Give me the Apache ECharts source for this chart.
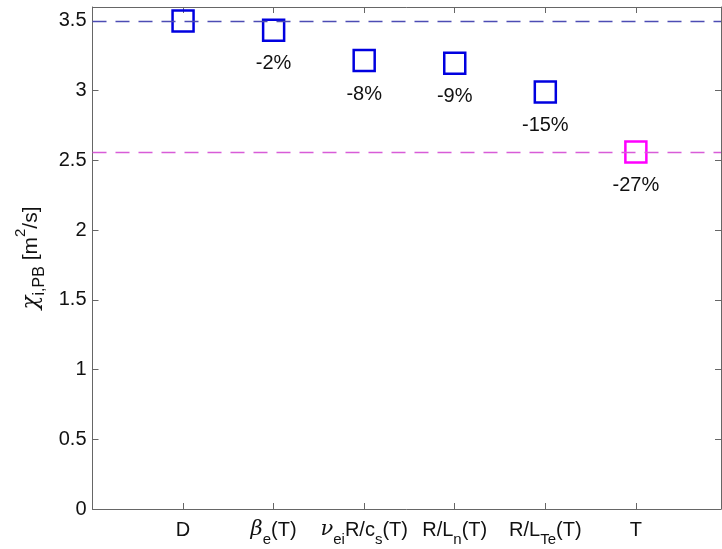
<!DOCTYPE html>
<html>
<head>
<meta charset="utf-8">
<script src="https://cdn.jsdelivr.net/npm/echarts@6/dist/echarts.min.js"></script>
<style>
  html, body { margin: 0; padding: 0; background: #fff; }
  #chart { width: 722px; height: 549px; }
</style>
</head>
<body>
<div id="chart"></div>
<script>
// Scenario labels (rich-text markup for subscripts / Greek letters)
const categories = [
  '{m|D}',
  '{g|β}{s|e}{m|(T)}',
  '{g|ν}{s|ei}{m|R/c}{s|s}{m|(T)}',
  '{m|R/L}{s|n}{m|(T)}',
  '{m|R/L}{s|Te}{m|(T)}',
  '{m|T}'
];
// Ion heat diffusivity per scenario [m^2/s]
const chiValues = [3.5, 3.434, 3.216, 3.197, 2.99, 2.561];
// Marker colour per scenario
const pointColors = ['#0000e0', '#0000e0', '#0000e0', '#0000e0', '#0000e0', '#ff00ff'];
// Y tick values
const yTicks = [0, 0.5, 1, 1.5, 2, 2.5, 3, 3.5];
const xTicks = [1, 2, 3, 4, 5, 6];

const baseValue = chiValues[0];
const lastValue = chiValues[chiValues.length - 1];

const FONT = '"Liberation Sans", Arial, Helvetica, sans-serif';
const TEXT = '#111';

const richStyles = {
  m: { fontSize: 20, fontFamily: FONT, color: TEXT, lineHeight: 34 },
  g: { fontSize: 21, fontFamily: '"DejaVu Serif", serif', fontStyle: 'italic', color: TEXT, lineHeight: 34 },
  s: { fontSize: 15, fontFamily: FONT, color: TEXT, lineHeight: 14, verticalAlign: 'bottom' }
};

const points = chiValues.map((v, i) => ({
  value: [i + 1, v],
  itemStyle: { borderColor: pointColors[i] },
  label: {
    show: i > 0,
    formatter: Math.round((v - baseValue) / baseValue * 100) + '%'
  }
}));

const axisColor = '#666';

const chart = echarts.init(document.getElementById('chart'), null, { renderer: 'canvas' });
chart.setOption({
  animation: false,
  backgroundColor: '#fff',
  grid: { left: 92.5, right: 1, top: 7, bottom: 40, containLabel: false },
  xAxis: [
    {
      type: 'value', min: 0, max: 6.94, position: 'bottom',
      splitLine: { show: false },
      axisLine: { show: true, onZero: false, lineStyle: { color: axisColor, width: 1 } },
      axisTick: { show: true, inside: true, length: 6, customValues: xTicks, lineStyle: { color: axisColor } },
      axisLabel: {
        customValues: xTicks,
        margin: 4,
        formatter: v => categories[Math.round(v) - 1] || '',
        rich: richStyles
      }
    },
    {
      type: 'value', min: 0, max: 6.94, position: 'top',
      splitLine: { show: false },
      axisLine: { show: true, onZero: false, lineStyle: { color: axisColor, width: 1 } },
      axisTick: { show: true, inside: true, length: 6, customValues: xTicks, lineStyle: { color: axisColor } },
      axisLabel: { show: false }
    }
  ],
  yAxis: [
    {
      type: 'value', min: 0, max: 3.6, position: 'left',
      splitLine: { show: false },
      axisLine: { show: true, onZero: false, lineStyle: { color: axisColor, width: 1 } },
      axisTick: { show: true, inside: true, length: 6, customValues: yTicks, lineStyle: { color: axisColor } },
      axisLabel: {
        customValues: yTicks, margin: 6,
        fontSize: 20, fontFamily: FONT, color: TEXT
      },
      name: '{c|χ}{s|i,PB}{m| [m}{p|2}{m|/s]}',
      nameLocation: 'middle',
      nameRotate: 90,
      nameGap: 44,
      nameTextStyle: {
        rich: {
          c: { fontSize: 23, fontFamily: '"DejaVu Serif", serif', fontStyle: 'italic', color: TEXT, lineHeight: 34 },
          m: { fontSize: 21, fontFamily: FONT, color: TEXT, lineHeight: 34 },
          s: { fontSize: 16, fontFamily: FONT, color: TEXT, lineHeight: 14, verticalAlign: 'bottom' },
          p: { fontSize: 15, fontFamily: FONT, color: TEXT, lineHeight: 14, verticalAlign: 'top' }
        }
      }
    },
    {
      type: 'value', min: 0, max: 3.6, position: 'right',
      splitLine: { show: false },
      axisLine: { show: true, onZero: false, lineStyle: { color: axisColor, width: 1 } },
      axisTick: { show: true, inside: true, length: 6, customValues: yTicks, lineStyle: { color: axisColor } },
      axisLabel: { show: false }
    }
  ],
  series: [
    {
      type: 'scatter',
      xAxisIndex: 0, yAxisIndex: 0,
      symbol: 'rect',
      symbolSize: 21,
      itemStyle: { color: 'rgba(0,0,0,0)', borderWidth: 2.5, opacity: 1 },
      label: {
        position: 'bottom', distance: 12,
        fontSize: 20, fontFamily: FONT, color: TEXT
      },
      data: points,
      z: 3,
      markLine: {
        silent: true,
        symbol: 'none',
        label: { show: false },
        data: [
          { yAxis: baseValue, lineStyle: { color: '#4c4cb4', type: [14, 9], width: 1.3, opacity: 1 } },
          { yAxis: lastValue, lineStyle: { color: '#d85cd8', type: [14, 9], width: 1.3, opacity: 1 } }
        ]
      }
    }
  ]
});
</script>
</body>
</html>
